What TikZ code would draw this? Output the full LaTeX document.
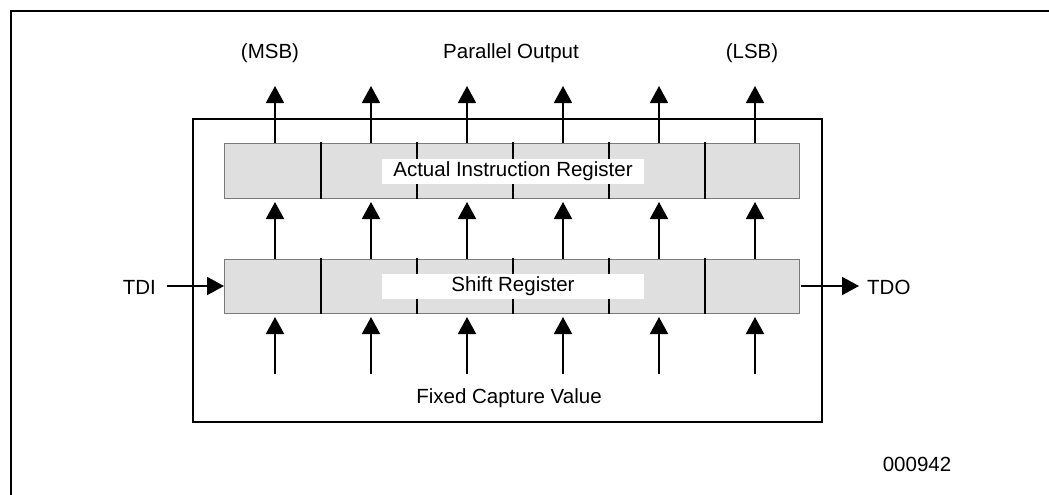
\documentclass[tikz,border=0pt]{standalone}
\usepackage{fontspec}
\setmainfont{Liberation Sans}
\usetikzlibrary{arrows.meta}
\definecolor{cellfill}{HTML}{DFDFDF}
\definecolor{cellline}{HTML}{7A7A7A}
\tikzset{
  cell/.style={draw=cellline, line width=1pt, fill=cellfill, minimum width=96pt,
    inner sep=0pt, outer sep=0pt, anchor=west},
  divider/.style={line width=2pt},
  bitarrow/.style={line width=2pt, -{Triangle[length=17pt,width=18pt]}},
  regtag/.style={fill=white, inner sep=0pt, minimum width=262pt, minimum height=25pt},
  lbl/.style={font=\fontsize{20.5}{24}\selectfont, inner sep=0pt},
}
\begin{document}
\begin{tikzpicture}[x=1pt, y=-1pt]
\useasboundingbox (0,0) rectangle (1049,495);
% open page frame
\draw[line width=2pt] (1049,11) -- (11,11) -- (11,495);
% enclosing block
\node[draw, line width=2pt, minimum width=629pt, minimum height=303pt, inner sep=0pt]
  (block) at (507.5,270.5) {};
% register cells
\foreach \i/\x in {1/224,2/321,3/417,4/513,5/609,6/705}{
  \pgfmathsetmacro{\w}{\i==1 ? 97 : (\i==6 ? 94 : 96)}
  \node[cell, minimum width=\w pt, minimum height=55pt] (a\i) at (\x,170.5) {};
  \node[cell, minimum width=\w pt, minimum height=54pt] (s\i) at (\x,286) {};
}
% cell dividers
\foreach \i in {2,...,6}{
  \draw[divider] ([yshift=1pt]a\i.north west) -- ([yshift=-1pt]a\i.south west);
  \draw[divider] ([yshift=1pt]s\i.north west) -- ([yshift=-1pt]s\i.south west);
}
% register names
\node[regtag, lbl] (airtag) at (513,171.5) {Actual Instruction Register};
\node[regtag, lbl] (srtag) at (513,286.5) {Shift Register};
% bit arrows
\foreach \i/\x in {1/275,2/371,3/467,4/563,5/659,6/755}{
  \coordinate (o\i) at (\x,86);
  \coordinate (c\i) at (\x,374);
  \draw[bitarrow] (\x,143) -- (o\i);
  \draw[bitarrow] (\x,259) -- (\x,202);
  \draw[bitarrow] (c\i) -- (\x,317);
}
% serial path
\node[lbl, anchor=east] (tdi) at (156,287) {TDI};
\node[lbl, anchor=west] (tdo) at (867,287) {TDO};
\draw[bitarrow] ([xshift=11pt]tdi.east |- s1.west) -- (s1.west);
\draw[bitarrow] ([xshift=2pt]s6.east) -- ([xshift=-8pt]tdo.west |- s6.east);
% captions
\node[lbl] (msb) at (270,53) {(MSB)};
\node[lbl] (pout) at (511,53) {Parallel Output};
\node[lbl] (lsb) at (752,53) {(LSB)};
\node[lbl] (fcv) at (509,398) {Fixed Capture Value};
\node[lbl] (fig) at (917,464) {000942};
\end{tikzpicture}
\end{document}
